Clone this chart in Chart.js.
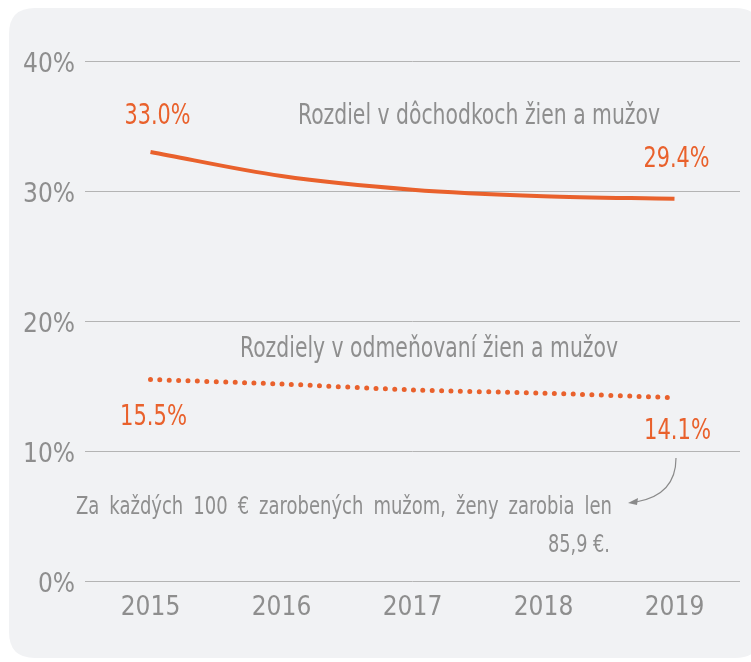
<!DOCTYPE html>
<html>
<head>
<meta charset="utf-8">
<script src="https://cdn.jsdelivr.net/npm/chart.js@4/dist/chart.umd.min.js"></script>
<style>
html,body{margin:0;padding:0;background:#ffffff;}
#wrap{width:751px;height:662px;position:relative;}
</style>
</head>
<body>
<div id="wrap"><canvas id="c" width="751" height="662"></canvas></div>
<script>
// ---- data ----
const years = ['2015', '2016', '2017', '2018', '2019'];
const pensionGap = [33.0, 31.15, 30.1, 29.6, 29.4];
const payGap = [15.5, 15.15, 14.7, 14.45, 14.1];
const yTicks = [0, 10, 20, 30, 40];
const pensionName = 'Rozdiel v dôchodkoch žien a mužov';
const payName = 'Rozdiely v odmeňovaní žien a mužov';
const noteLine1 = 'Za každých 100 € zarobených mužom, ženy zarobia len';
const noteLine2 = '85,9 €.';

const ORANGE = '#e9612c';
const GRAY = '#8e8e8e';
const FONT = "'Liberation Sans Narrow', 'DejaVu Sans Condensed', 'Roboto Condensed', sans-serif";

function fitText(ctx, text, x, y, width, size, color, align) {
  ctx.save();
  ctx.font = size + 'px ' + FONT;
  ctx.fillStyle = color;
  ctx.textBaseline = 'middle';
  const w = ctx.measureText(text).width;
  const s = width / w;
  let left = x;
  if (align === 'center') left = x - width / 2;
  ctx.translate(left, y);
  ctx.scale(s, 1);
  ctx.textAlign = 'left';
  ctx.fillText(text, 0, 0);
  ctx.restore();
}

function justify(ctx, text, x1, x2, y, size, color, squeeze) {
  ctx.save();
  ctx.font = size + 'px ' + FONT;
  ctx.fillStyle = color;
  ctx.textBaseline = 'middle';
  const words = text.split(' ');
  const ws = words.map(w => ctx.measureText(w).width * squeeze);
  const total = ws.reduce((a, b) => a + b, 0);
  const gap = (x2 - x1 - total) / (words.length - 1);
  let x = x1;
  words.forEach((w, i) => {
    ctx.save();
    ctx.translate(x, y);
    ctx.scale(squeeze, 1);
    ctx.fillText(w, 0, 0);
    ctx.restore();
    x += ws[i] + gap;
  });
  ctx.restore();
}

const cardPlugin = {
  id: 'card',
  beforeDraw(chart) {
    const ctx = chart.ctx;
    ctx.save();
    ctx.fillStyle = '#f1f2f4';
    const x = 9, y = 8, w = 752, h = 650, r = 26;
    ctx.beginPath();
    ctx.moveTo(x + r, y);
    ctx.lineTo(x + w - r, y);
    ctx.quadraticCurveTo(x + w, y, x + w, y + r);
    ctx.lineTo(x + w, y + h - r);
    ctx.quadraticCurveTo(x + w, y + h, x + w - r, y + h);
    ctx.lineTo(x + r, y + h);
    ctx.quadraticCurveTo(x, y + h, x, y + h - r);
    ctx.lineTo(x, y + r);
    ctx.quadraticCurveTo(x, y, x + r, y);
    ctx.closePath();
    ctx.fill();
    ctx.restore();
  }
};

const annoPlugin = {
  id: 'anno',
  afterDatasetsDraw(chart) {
    const ctx = chart.ctx;
    const xs = chart.scales.x, ys = chart.scales.y;
    const last = years.length - 1;
    const px = i => xs.getPixelForValue(i);
    const py = v => ys.getPixelForValue(v);

    // value labels
    fitText(ctx, pensionGap[0].toFixed(1) + '%', px(0) + 7, py(pensionGap[0]) - 36, 66, 29, ORANGE, 'center');
    fitText(ctx, pensionGap[last].toFixed(1) + '%', px(last) + 2, py(pensionGap[last]) - 39, 66, 29, ORANGE, 'center');
    fitText(ctx, payGap[0].toFixed(1) + '%', px(0) + 3, py(payGap[0]) + 38, 67, 29, ORANGE, 'center');
    fitText(ctx, payGap[last].toFixed(1) + '%', px(last) + 3, py(payGap[last]) + 34, 67, 29, ORANGE, 'center');

    // series names
    fitText(ctx, pensionName, 298, py(pensionGap[0]) - 36, 362, 29, GRAY, 'left');
    fitText(ctx, payName, 240, py(payGap[0]) - 30, 378, 29, GRAY, 'left');

    // note
    justify(ctx, noteLine1, 76, 612, 507, 25, GRAY, 0.8);
    fitText(ctx, noteLine2, 548, 545, 62, 25, GRAY, 'left');

    // arrow
    ctx.save();
    ctx.strokeStyle = '#8a8a8a';
    ctx.fillStyle = '#8a8a8a';
    ctx.lineWidth = 1.2;
    const sx = 676, sy = 458, ex = 636, ey = 502;
    ctx.beginPath();
    ctx.moveTo(sx, sy);
    ctx.quadraticCurveTo(676, 495, ex, ey);
    ctx.stroke();
    ctx.beginPath();
    ctx.moveTo(628, 503);
    ctx.lineTo(638, 498);
    ctx.lineTo(637, 505);
    ctx.closePath();
    ctx.fill();
    ctx.restore();
  }
};

new Chart(document.getElementById('c'), {
  type: 'line',
  data: {
    labels: years,
    datasets: [
      {
        label: pensionName,
        data: pensionGap,
        borderColor: ORANGE,
        borderWidth: 4,
        pointRadius: 0,
        tension: 0.4,
        cubicInterpolationMode: 'monotone',
        fill: false
      },
      {
        label: payName,
        data: payGap,
        borderColor: ORANGE,
        borderWidth: 5,
        borderDash: [0, 9.4],
        borderCapStyle: 'round',
        pointRadius: 0,
        tension: 0.3,
        fill: false
      }
    ]
  },
  options: {
    responsive: false,
    animation: false,
    devicePixelRatio: 1,
    layout: { padding: { top: 61, right: 11, left: 0, bottom: 0 } },
    plugins: { legend: { display: false }, tooltip: { enabled: false } },
    scales: {
      x: {
        offset: true,
        grid: { display: false },
        border: { display: false },
        ticks: { color: GRAY, font: { family: FONT, size: 26 }, padding: 4 },
        afterFit(s) { s.height = 81; }
      },
      y: {
        min: 0,
        max: 40,
        afterBuildTicks(s) { s.ticks = yTicks.map(v => ({ value: v })); },
        ticks: { color: GRAY, font: { family: FONT, size: 26 }, padding: 10, labelOffset: 4, callback: v => v + '%' },
        grid: { color: '#b4b4b4', lineWidth: 1, drawTicks: false },
        border: { display: false },
        afterFit(s) { s.width = 85; }
      }
    }
  },
  plugins: [cardPlugin, annoPlugin]
});
</script>
</body>
</html>
